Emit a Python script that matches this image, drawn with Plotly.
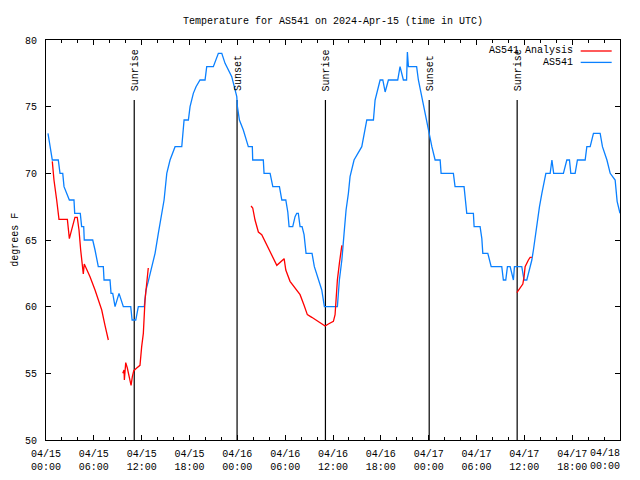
import pandas as pd
import plotly.graph_objects as go

# ---------------- data (hours after 2024-04-15 00:00 UTC, degrees F) ----------------
obs_hours = [0.25, 0.56, 0.79, 1.54, 1.76, 2.10, 2.26, 2.93, 3.51, 3.60, 4.30, 4.47, 4.73, 4.80,
             5.86, 6.15, 6.56, 7.19, 7.28, 8.03, 8.16, 8.37, 8.66, 9.16, 9.50, 9.70, 10.63, 10.80,
             11.26, 11.58, 12.33, 12.54, 12.83, 13.26, 13.68, 14.09, 14.52, 14.81, 15.15, 15.56,
             16.19, 17.03, 17.32, 17.86, 18.07, 18.48, 18.82, 19.32, 19.95, 20.16, 20.99, 21.62,
             22.05, 22.46, 23.30, 23.93, 24.01, 24.26, 24.75, 25.38, 25.88, 25.93, 27.26, 27.35,
             28.11, 28.45, 29.28, 29.58, 30.08, 30.33, 30.49, 30.95, 31.24, 31.45, 31.65, 31.87,
             32.12, 32.37, 32.62, 33.37, 33.66, 34.17, 34.59, 34.92, 36.55, 36.80, 37.11, 37.39,
             37.64, 37.93, 38.14, 38.64, 39.61, 40.24, 41.07, 41.28, 41.49, 41.91, 42.25, 42.54,
             42.95, 44.12, 44.41, 44.83, 45.23, 45.33, 45.46, 46.49, 46.71, 47.14, 47.55, 47.97,
             48.18, 48.40, 48.81, 49.44, 49.56, 51.10, 51.31, 52.44, 52.78, 53.61, 53.70, 54.45,
             54.67, 54.79, 55.42, 55.62, 55.84, 57.17, 57.37, 57.67, 57.88, 58.22, 58.43, 58.63,
             58.76, 59.68, 59.89, 59.97, 60.31, 60.64, 60.94, 61.14, 61.36, 61.57, 61.90, 62.20,
             62.49, 62.70, 63.24, 63.46, 63.68, 64.90, 65.33, 65.66, 65.83, 66.37, 66.66, 67.63,
             67.84, 68.26, 68.67, 69.51, 69.80, 70.36, 70.77, 71.39, 71.64, 72.00]
obs_temps = [73.0, 72.0, 71.0, 71.0, 70.0, 70.0, 69.0, 68.0, 68.0, 67.0, 67.0, 66.0, 66.0, 65.0,
             65.0, 64.25, 63.0, 63.0, 62.0, 62.0, 61.0, 61.0, 60.0, 61.0, 60.4, 60.0, 60.0, 59.0,
             59.0, 60.0, 60.0, 61.25, 61.9, 63.0, 64.0, 65.5, 67.0, 68.0, 70.0, 71.0,
             72.0, 72.0, 74.0, 74.0, 75.0, 76.0, 76.5, 77.0, 77.0, 78.0, 78.0, 79.0,
             79.0, 78.25, 77.25, 75.75, 75.0, 74.0, 73.25, 72.0, 72.0, 71.0, 71.0, 70.0,
             70.0, 69.0, 69.0, 68.0, 68.0, 67.1, 66.0, 66.0, 66.75, 67.0, 67.0, 66.0,
             66.0, 65.4, 64.0, 64.0, 63.0, 62.0, 61.25, 60.0, 60.0, 62.0, 63.5, 65.5,
             67.25, 68.5, 69.75, 71.0, 72.0, 74.0, 74.0, 75.5, 76.0, 77.0, 77.0, 76.1,
             77.0, 77.0, 78.0, 77.0, 77.0, 79.1, 78.0, 78.0, 77.0, 75.75, 74.5, 73.25,
             72.5, 72.0, 71.0, 71.0, 70.0, 70.0, 69.0, 69.0, 67.0, 67.0, 66.0, 66.0,
             65.1, 64.0, 64.0, 63.6, 63.0, 63.0, 62.0, 62.0, 63.0, 63.0, 62.5, 62.0,
             63.0, 63.0, 62.25, 62.0, 62.0, 62.75, 63.5, 64.25, 65.25, 66.25, 67.5, 68.5,
             69.5, 70.0, 70.0, 71.0, 70.0, 70.0, 71.0, 71.0, 70.0, 70.0, 71.0, 71.0,
             72.0, 72.0, 73.0, 73.0, 72.0, 71.0, 70.0, 69.5, 67.9, 67.0]

ana_seg1_hours = [0.79, 1.00, 1.34, 1.63, 2.68, 2.93, 3.10, 3.63, 3.92, 4.14, 4.35, 4.60, 4.68,
                  4.80, 5.10, 5.52, 6.15, 6.56, 6.99, 7.40, 7.82]
ana_seg1_temps = [70.9, 69.5, 68.0, 66.55, 66.55, 65.1, 65.5, 66.7, 66.7, 65.75, 64.25, 62.75, 62.45,
                  63.2, 62.8, 62.25, 61.25, 60.5, 59.75, 58.6, 57.5]
ana_seg2_hours = [9.63, 9.79, 9.83, 10.00, 10.20, 10.46, 10.67, 10.83, 11.01, 11.38, 11.79, 12.00,
                  12.21, 12.42, 12.54, 12.71, 12.83]
ana_seg2_temps = [55.0, 55.25, 54.5, 55.8, 55.4, 54.5, 54.1, 54.75, 55.2, 55.4, 55.6, 57.0,
                  58.0, 60.5, 61.25, 62.25, 62.9]
ana_seg3_hours = [25.72, 25.93, 26.22, 26.64, 27.06, 27.69, 28.32, 28.95, 29.87, 30.08, 30.61,
                  31.24, 31.87, 32.37, 32.78, 33.34, 34.17, 35.01, 35.42, 36.05, 36.26, 36.39,
                  36.55, 36.80, 37.11]
ana_seg3_temps = [67.55, 67.4, 66.5, 65.6, 65.4, 64.6, 63.9, 63.1, 63.6, 62.75, 61.9,
                  61.4, 60.9, 60.1, 59.4, 59.2, 58.9, 58.55, 58.7, 58.9, 59.4, 60.6,
                  62.0, 63.25, 64.6]
ana_seg4_hours = [59.06, 59.38, 59.81, 59.97, 60.10, 60.51, 60.73, 60.94]
ana_seg4_temps = [61.05, 61.3, 61.7, 62.25, 63.0, 63.5, 63.7, 63.7]

sun_event_times = ["2024-04-15 11:04", "2024-04-15 23:58", "2024-04-16 11:03",
                   "2024-04-17 00:04", "2024-04-17 11:06"]
sun_event_labels = ["Sunrise", "Sunset", "Sunrise", "Sunset", "Sunrise"]
sun_line_top = 75.5

tick_times = ["2024-04-15 00:00", "2024-04-15 06:00", "2024-04-15 12:00", "2024-04-15 18:00",
              "2024-04-16 00:00", "2024-04-16 06:00", "2024-04-16 12:00", "2024-04-16 18:00",
              "2024-04-17 00:00", "2024-04-17 06:00", "2024-04-17 12:00", "2024-04-17 18:00",
              "2024-04-18 00:00"]
tick_labels = ["04/15<br>00:00", "04/15<br>06:00", "04/15<br>12:00", "04/15<br>18:00",
               "04/16<br>00:00", "04/16<br>06:00", "04/16<br>12:00", "04/16<br>18:00",
               "04/17<br>00:00", "04/17<br>06:00", "04/17<br>12:00", "04/17<br>18:00",
               "04/18<br>00:00"]
y_ticks = [50, 55, 60, 65, 70, 75, 80]

series_names = ["AS541 Analysis", "AS541"]
series_colors = ["#ff0000", "#0a80ff"]

# ---------------- build ----------------
base = pd.Timestamp("2024-04-15 00:00")


def to_time(hours):
    return list(base + pd.to_timedelta(hours, unit="h"))


ana_x, ana_y = [], []
for hs, ts in [(ana_seg1_hours, ana_seg1_temps), (ana_seg2_hours, ana_seg2_temps),
               (ana_seg3_hours, ana_seg3_temps), (ana_seg4_hours, ana_seg4_temps)]:
    ana_x += to_time(hs) + [None]
    ana_y += ts + [None]

FONT = "Liberation Mono, DejaVu Sans Mono, monospace"

# page body has an 8px margin, so the figure is sized/placed to compensate
FIG_W, FIG_H = 632, 472

fig = go.Figure()

# sunrise / sunset vertical lines
for t in sun_event_times:
    fig.add_trace(go.Scatter(x=[t, t], y=[50, sun_line_top], mode="lines",
                             line=dict(color="black", width=1.2), showlegend=False,
                             hoverinfo="skip"))

fig.add_trace(go.Scatter(x=to_time(obs_hours), y=obs_temps, mode="lines",
                         name=series_names[1], line=dict(color=series_colors[1], width=1.3),
                         showlegend=False))
fig.add_trace(go.Scatter(x=ana_x, y=ana_y, mode="lines", connectgaps=False,
                         name=series_names[0], line=dict(color=series_colors[0], width=1.3),
                         showlegend=False))

annotations = []
for t, lab in zip(sun_event_times, sun_event_labels):
    annotations.append(dict(x=t, y=sun_line_top, xref="x", yref="y", text=lab,
                            textangle=-90, showarrow=False, xanchor="center",
                            yanchor="bottom", yshift=7, xshift=1,
                            font=dict(family=FONT, size=10, color="black")))

# key (gnuplot style: text then sample)
key_rows = [0.9725, 0.944]
for name, col, yy in zip(series_names, series_colors, key_rows):
    annotations.append(dict(x=0.921, y=yy, xref="paper", yref="paper", text=name,
                            showarrow=False, xanchor="right", yanchor="middle",
                            font=dict(family=FONT, size=10, color="black")))
    fig.add_shape(type="line", xref="paper", yref="paper", x0=0.9315, x1=0.9855,
                  y0=yy, y1=yy, line=dict(color=col, width=1.3))

annotations.append(dict(x=-0.0545, y=0.5, xref="paper", yref="paper", text="degrees F",
                        textangle=-90, showarrow=False, xanchor="center", yanchor="middle",
                        font=dict(family=FONT, size=10, color="black")))

# the last tick label sits flush with the right edge, as in the original
annotations.append(dict(x=tick_times[-1], y=-0.016, xref="x", yref="paper",
                        text=tick_labels[-1], showarrow=False, xanchor="right",
                        yanchor="top", align="center", xshift=2,
                        font=dict(family=FONT, size=10, color="black")))
shown_ticktext = tick_labels[:-1] + [""]

fig.update_layout(
    width=FIG_W, height=FIG_H,
    margin=dict(l=38, r=20, t=32, b=40, autoexpand=False),
    paper_bgcolor="white", plot_bgcolor="white",
    font=dict(family=FONT, size=10, color="black"),
    title=dict(text="Temperature for AS541 on 2024-Apr-15 (time in UTC)",
               x=0.5, xref="paper", xanchor="center",
               y=1 - 12 / FIG_H, yref="container", yanchor="middle",
               font=dict(family=FONT, size=10, color="black")),
    annotations=annotations,
    showlegend=False,
)

fig.update_xaxes(
    type="date", range=["2024-04-15 00:00", "2024-04-18 00:00"],
    tickvals=tick_times, ticktext=shown_ticktext,
    ticks="inside", ticklen=5, tickwidth=1, tickcolor="black",
    minor=dict(dtick=2 * 3600000, ticks="inside", ticklen=3, tickcolor="black",
               showgrid=False),
    showline=True, linecolor="black", linewidth=1, mirror="allticks",
    showgrid=False, zeroline=False, ticklabelstandoff=4,
    tickfont=dict(family=FONT, size=10, color="black"),
)
fig.update_yaxes(
    range=[50, 80], tickvals=y_ticks,
    ticks="inside", ticklen=5, tickwidth=1, tickcolor="black",
    showline=True, linecolor="black", linewidth=1, mirror="allticks",
    showgrid=False, zeroline=False, ticklabelstandoff=6,
    tickfont=dict(family=FONT, size=10, color="black"),
)

fig.write_html("out.html")
